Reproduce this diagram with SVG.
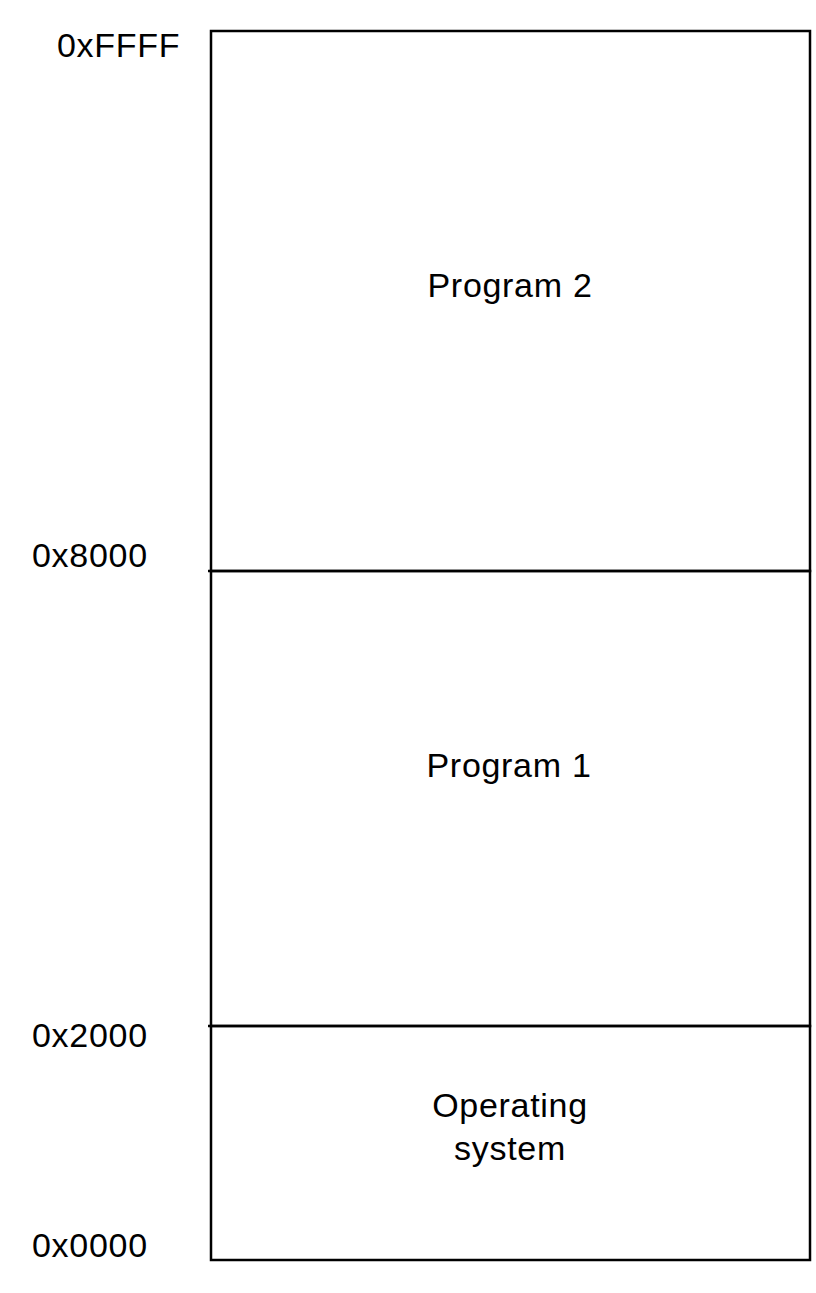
<svg xmlns="http://www.w3.org/2000/svg" width="816" height="1293" viewBox="0 0 816 1293">
<style>
.t{font-family:"Liberation Sans",Arial,sans-serif;font-size:34px;letter-spacing:0.7px;fill:#000}
.c{text-anchor:middle}
.s{fill:none;stroke:#000;stroke-width:2.5}
</style>
<rect width="816" height="1293" fill="#fff"/>
<g id="program2">
<rect class="s" x="211" y="31" width="599" height="540"/>
<text class="t c" x="510" y="297">Program 2</text>
</g>
<g id="program1">
<rect class="s" x="211" y="571" width="599" height="455"/>
<text class="t c" x="509" y="777">Program 1</text>
</g>
<g id="os">
<rect class="s" x="211" y="1026" width="599" height="234"/>
<text class="t c" x="510" y="1117">Operating</text>
<text class="t c" x="510" y="1160">system</text>
</g>
<g id="connectors">
<line class="s" x1="208" y1="571" x2="211" y2="571"/>
<line class="s" x1="208" y1="1026" x2="211" y2="1026"/>
</g>
<g id="labels">
<text class="t" x="57" y="57">0xFFFF</text>
<text class="t" x="32" y="567">0x8000</text>
<text class="t" x="32" y="1047">0x2000</text>
<text class="t" x="32" y="1257">0x0000</text>
</g>
</svg>
